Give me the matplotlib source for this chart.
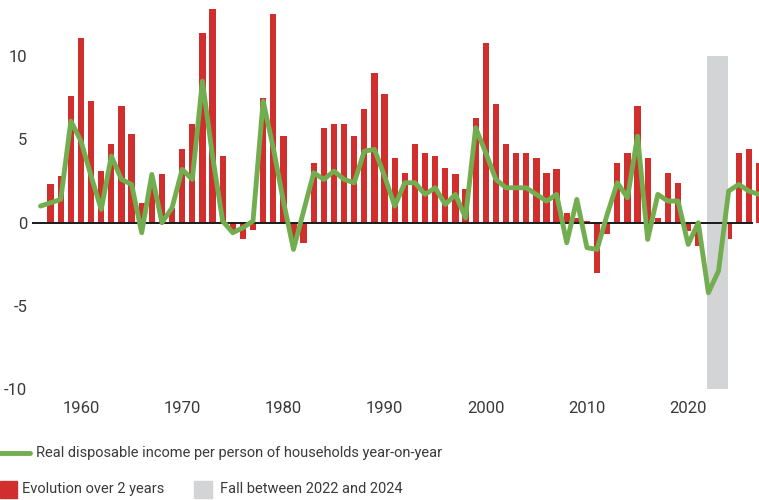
import numpy as np
import matplotlib
matplotlib.use("Agg")
import matplotlib.pyplot as plt
from matplotlib.patches import Rectangle
from matplotlib.lines import Line2D

plt.rcParams["font.family"] = ["Roboto", "DejaVu Sans"]

# Real disposable income per person, year-on-year (%)
line_years = list(range(1956, 2028))
yoy = [1.0, 1.2, 1.4, 6.1, 4.9, 2.8, 0.8, 4.0, 2.6, 2.3,
       -0.6, 2.9, 0.0, 0.9, 3.2, 2.6, 8.5, 4.0, 0.1, -0.6,
       -0.3, 0.1, 7.3, 4.5, 1.3, -1.6, 0.7, 3.0, 2.6, 3.1,
       2.6, 2.4, 4.3, 4.4, 2.8, 1.0, 2.4, 2.4, 1.7, 2.1,
       1.1, 1.7, 0.3, 5.7, 4.2, 2.6, 2.1, 2.1, 2.1, 1.7,
       1.3, 1.7, -1.2, 1.4, -1.5, -1.6, 0.5, 2.4, 1.5, 5.2,
       -1.0, 1.7, 1.3, 1.3, -1.3, 0.0, -4.2, -2.9, 1.9, 2.3,
       1.9, 1.7]

# Evolution over 2 years (%) - 2022/2023 hidden behind the grey band
bar_years = list(range(1957, 2028))
two_year = [2.3, 2.8, 7.6, 11.1, 7.3, 3.1, 4.7, 7.0, 5.3, 1.2,
            2.2, 2.9, 0.9, 4.4, 5.9, 11.4, 12.8, 4.0, -0.5, -1.0,
            -0.45, 7.5, 12.5, 5.2, -1.2, -1.2, 3.6, 5.7, 5.9, 5.9,
            5.2, 6.8, 9.0, 7.7, 3.9, 3.0, 4.7, 4.2, 4.0, 3.3,
            2.9, 2.0, 6.3, 10.8, 7.1, 4.7, 4.2, 4.2, 3.9, 3.0,
            3.2, 0.6, 0.3, 0.1, -3.0, -0.7, 3.6, 4.2, 7.0, 3.9,
            0.3, 3.0, 2.4, -0.5, -1.4, np.nan, np.nan, -1.0, 4.2, 4.4,
            3.6]

fall_start, fall_end = 2022, 2024
x_ticks = [1960, 1970, 1980, 1990, 2000, 2010, 2020]
y_ticks = [-10, -5, 0, 5, 10]

RED = "#d12e2e"
GREEN = "#72ae4f"
GREY = "#d3d4d6"
TEXT = "#3a3a3a"

fig = plt.figure(figsize=(7.59, 5.0), dpi=100)
ax = fig.add_axes([32 / 759, 105 / 500, 727 / 759, 395 / 500])

ax.bar(bar_years, two_year, width=0.62, color=RED, zorder=2)
ax.fill_between([fall_start - 0.1, fall_end - 0.1], -10, 10,
                color=GREY, linewidth=0, zorder=3)
ax.plot([1955.16, 2026.3], [0, 0], color="#1a1a1a", lw=1.4, zorder=4)
ax.plot(line_years, yoy, color=GREEN, lw=3.5, solid_joinstyle="round",
        solid_capstyle="round", zorder=5)

ax.set_xlim(1955.16, 2027.0)
ax.set_ylim(-10.34, 13.37)
ax.set_xticks(x_ticks)
ax.set_yticks(y_ticks)
ax.set_yticklabels([str(v) for v in y_ticks])
ax.tick_params(axis="both", length=0, labelsize=12, colors=TEXT)
ax.tick_params(axis="x", pad=4.5)
ax.tick_params(axis="y", pad=3.5)
for s in ax.spines.values():
    s.set_visible(False)

# legend drawn by hand under the chart
W, H = 759, 500
fig.add_artist(Line2D([0, 30 / W], [1 - 453 / H] * 2, color=GREEN, lw=3.5,
                      solid_capstyle="round", transform=fig.transFigure))
fig.text(36 / W, 1 - 453 / H, "Real disposable income per person of households year-on-year",
         fontsize=10.5, color=TEXT, va="center", ha="left")
fig.add_artist(Rectangle((0, 1 - 498 / H), 17 / W, 17 / H, color=RED,
                         transform=fig.transFigure))
fig.text(22 / W, 1 - 489 / H, "Evolution over 2 years", fontsize=10.5,
         color=TEXT, va="center", ha="left")
fig.add_artist(Rectangle((194 / W, 1 - 498 / H), 18 / W, 17 / H, color=GREY,
                         transform=fig.transFigure))
fig.text(220 / W, 1 - 489 / H, "Fall between 2022 and 2024", fontsize=10.5,
         color=TEXT, va="center", ha="left")

fig.savefig("out.png", dpi=100)
